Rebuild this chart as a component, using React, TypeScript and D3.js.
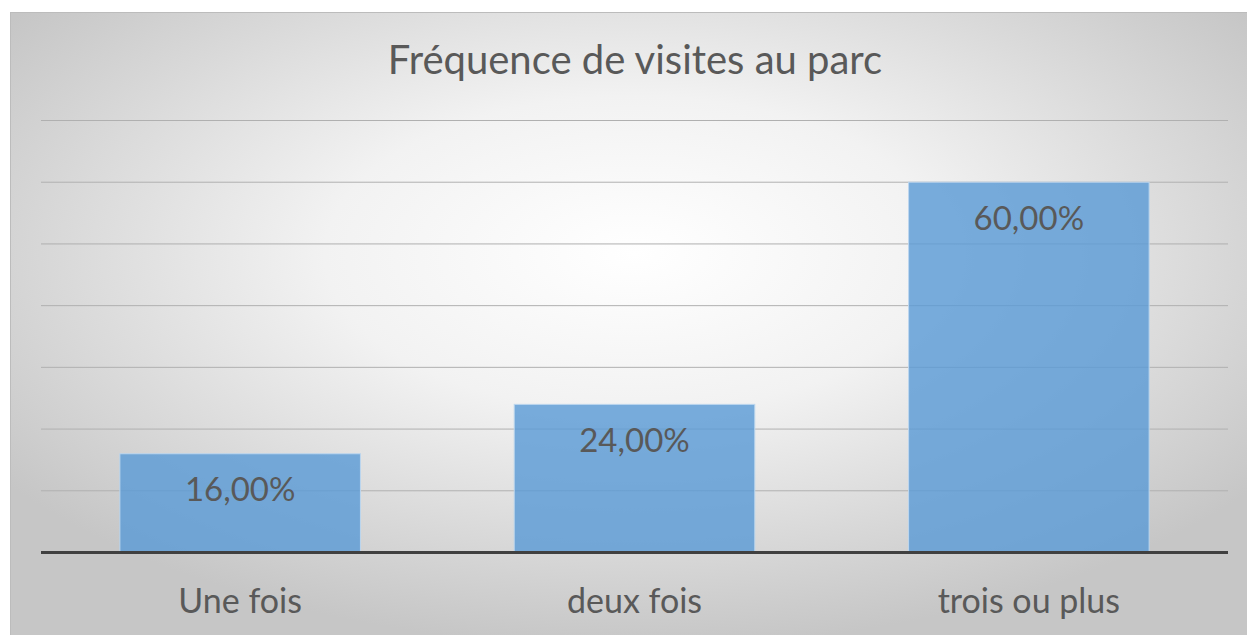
import React from 'react';
import * as d3 from 'd3';

const title = 'Fréquence de visites au parc';
const categories = ['Une fois', 'deux fois', 'trois ou plus'];
const values = [16, 24, 60];
const valueLabels = ['16,00%', '24,00%', '60,00%'];
const gridTicks = [0, 10, 20, 30, 40, 50, 60, 70];

export default function App() {
  const width = 1247;
  const height = 635;
  const plot = { left: 41, right: 1228, top: 120.5, bottom: 552.5 };

  const x = d3.scaleBand<string>()
    .domain(categories)
    .range([plot.left, plot.right])
    .paddingInner(0.39)
    .paddingOuter(0.2);

  const y = d3.scaleLinear()
    .domain([0, 70])
    .range([plot.bottom, plot.top]);

  const font = 'Lato, "Open Sans", sans-serif';
  const textColor = '#595959';

  return (
    <svg width={width} height={height} style={{ position: 'absolute', left: 0, top: 0 }}>
      <defs>
        <radialGradient id="bg" cx="50%" cy="38%" r="62%" fx="50%" fy="38%">
          <stop offset="0%" stopColor="#ffffff" />
          <stop offset="40%" stopColor="#f2f2f2" />
          <stop offset="100%" stopColor="#c6c6c6" />
        </radialGradient>
      </defs>
      <rect x={0} y={0} width={width} height={height} fill="#ffffff" />
      <rect x={10.5} y={12.5} width={width} height={height} fill="url(#bg)" stroke="#bcbcbc" strokeWidth={1} />

      <text x={635} y={64} textAnchor="middle" dominantBaseline="middle" fontFamily={font} fontSize={40} fill={textColor}>
        {title}
      </text>

      {/* gridlines */}
      {gridTicks.filter(t => t > 0).map(t => (
        <line key={t} x1={plot.left} x2={plot.right} y1={y(t)} y2={y(t)} stroke="#b0b0b0" strokeWidth={1} />
      ))}

      {/* bars */}
      {categories.map((c, i) => (
        <rect
          key={c}
          x={x(c)}
          y={y(values[i])}
          width={x.bandwidth()}
          height={y(0) - y(values[i])}
          fill="#5b9bd5"
          fillOpacity={0.82}
          stroke="#bcd6ee"
          strokeWidth={1}
        />
      ))}

      {/* value labels */}
      {categories.map((c, i) => (
        <text
          key={c}
          x={(x(c) as number) + x.bandwidth() / 2}
          y={y(values[i]) + 39}
          textAnchor="middle"
          dominantBaseline="middle"
          fontFamily={font}
          fontSize={33}
          fill={textColor}
        >
          {valueLabels[i]}
        </text>
      ))}

      {/* baseline */}
      <line x1={plot.left} x2={plot.right} y1={y(0)} y2={y(0)} stroke="#404040" strokeWidth={3} />

      {/* category labels */}
      {categories.map(c => (
        <text
          key={c}
          x={(x(c) as number) + x.bandwidth() / 2}
          y={604}
          textAnchor="middle"
          dominantBaseline="middle"
          fontFamily={font}
          fontSize={34}
          fill={textColor}
        >
          {c}
        </text>
      ))}
    </svg>
  );
}
